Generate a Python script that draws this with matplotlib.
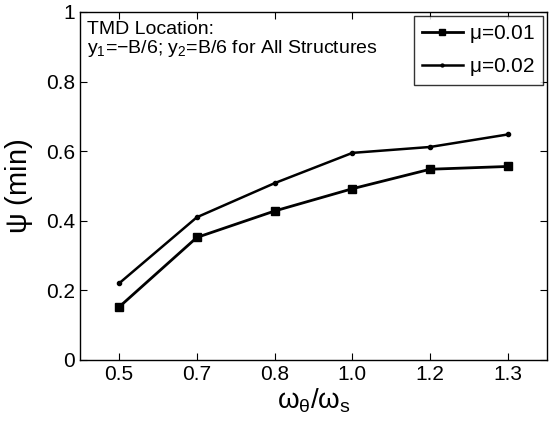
import matplotlib
matplotlib.use("Agg")
import matplotlib.pyplot as plt

plt.rcParams['font.family'] = ['Liberation Sans', 'DejaVu Sans']
plt.rcParams['mathtext.fontset'] = 'custom'
plt.rcParams['mathtext.rm'] = 'Liberation Sans'
plt.rcParams['mathtext.it'] = 'Liberation Sans'

# frequency ratios (categorical x axis)
ratios = ["0.5", "0.7", "0.8", "1.0", "1.2", "1.3"]
psi_mu001 = [0.152, 0.352, 0.428, 0.492, 0.548, 0.556]
psi_mu002 = [0.220, 0.410, 0.508, 0.595, 0.612, 0.648]

fig = plt.figure(figsize=(5.49, 4.26), dpi=100)
ax = fig.add_axes([0.146, 0.155, 0.850, 0.817])

x = list(range(len(ratios)))
ax.plot(x, psi_mu001, color='black', lw=2, marker='s', ms=6, label=r'$\mu$=0.01')
ax.plot(x, psi_mu002, color='black', lw=1.8, marker='o', ms=3, label=r'$\mu$=0.02')

ax.set_xlim(-0.5, 5.5)
ax.set_ylim(0, 1)
ax.set_xticks(x)
ax.set_xticklabels(ratios)
ax.set_yticks([0, 0.2, 0.4, 0.6, 0.8, 1])
ax.set_yticklabels(["0", "0.2", "0.4", "0.6", "0.8", "1"])
ax.tick_params(direction='in', top=True, right=True, labelsize=15, length=5)

ax.set_xlabel(r'$\omega_\theta/\omega_s$', fontsize=20, labelpad=2)
ax.set_ylabel(r'$\psi$ (min)', fontsize=21, labelpad=8)

ax.text(0.015, 0.975, 'TMD Location:\n' + r'y$_1$=$-$B/6; y$_2$=B/6 for All Structures',
        transform=ax.transAxes, va='top', ha='left', fontsize=14, linespacing=1.0)

leg = ax.legend(loc='upper right', fontsize=15, frameon=True, fancybox=False,
                edgecolor='black', handlelength=2.0, handletextpad=0.3,
                borderaxespad=0.2, borderpad=0.35, labelspacing=0.5, markerscale=0.7)
leg.get_frame().set_linewidth(1.0)

for s in ax.spines.values():
    s.set_linewidth(1.0)

fig.savefig("out.png", dpi=100)
